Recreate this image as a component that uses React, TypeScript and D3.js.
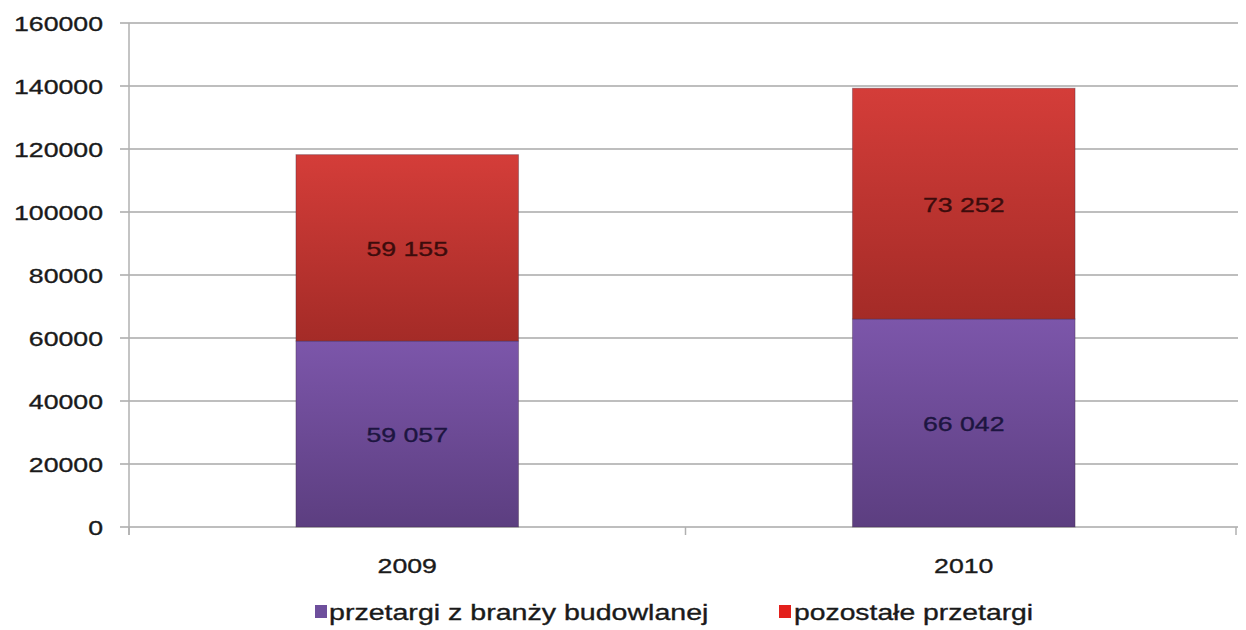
import React from 'react';
import * as d3 from 'd3';

const years = ['2009', '2010'];
const construction = [59057, 66042];
const other = [59155, 73252];
const yTicks = [0, 20000, 40000, 60000, 80000, 100000, 120000, 140000, 160000];
const seriesNames = ['przetargi z branży budowlanej', 'pozostałe przetargi'];

const width = 1246;
const height = 630;
const margin = { top: 23, right: 4, bottom: 103, left: 129 };
const SX = 1.27; // the source picture is stretched horizontally

const fmt = (v: number) => d3.format(',')(v).replace(/,/g, ' ');

function StretchText({ x, y, anchor, children, fill = '#1a1a1a', size = 21 }: any) {
    return (
        <g transform={`translate(${x},${y}) scale(${SX},1)`}>
            <text textAnchor={anchor} fontSize={size} fill={fill} stroke={fill} strokeWidth={0.35}
                fontFamily="'Liberation Sans', Arial, sans-serif">
                {children}
            </text>
        </g>
    );
}

export default function App() {
    const right = width - margin.right;
    const y = d3.scaleLinear().domain([0, 160000]).range([527, margin.top]);
    const band = d3.scaleBand().domain(years).range([margin.left, right]);

    const stacks = d3.stack<any>().keys(['a', 'b'])(years.map((yr, i) => ({ yr, a: construction[i], b: other[i] })));
    const fills = ['url(#gPurple)', 'url(#gRed)'];
    const labelColors = ['#1d1540', '#3d0c0c'];

    return (
        <svg width={width} height={height} style={{ position: 'absolute', left: 0, top: 0, background: '#fff' }}>
            <defs>
                <linearGradient id="gPurple" x1="0" y1="0" x2="0" y2="1">
                    <stop offset="0%" stopColor="#7c56aa" />
                    <stop offset="100%" stopColor="#5c3e80" />
                </linearGradient>
                <linearGradient id="gRed" x1="0" y1="0" x2="0" y2="1">
                    <stop offset="0%" stopColor="#d43d39" />
                    <stop offset="100%" stopColor="#a42b27" />
                </linearGradient>
            </defs>

            {/* gridlines */}
            {yTicks.map(t => (
                <line key={t} x1={120} x2={1238} y1={y(t)} y2={y(t)} stroke="#a8a8a8" strokeWidth={1.5} />
            ))}
            {/* axes */}
            <line x1={margin.left} x2={margin.left} y1={y(160000)} y2={535} stroke="#b0b0b0" strokeWidth={1.5} />
            {[...years.map(yr => band(yr) as number), 1236].map((p, i) => (
                <line key={i} x1={p} x2={p} y1={527} y2={535} stroke="#b0b0b0" strokeWidth={1.5} />
            ))}
            {yTicks.map(t => (
                <StretchText key={t} x={103} y={y(t) + 7.5} anchor="end">{String(t)}</StretchText>
            ))}

            {/* bars */}
            {stacks.map((s, si) => s.map((d, i) => {
                const x0 = (band(years[i]) as number) + band.bandwidth() * 0.3;
                const w = band.bandwidth() * 0.4;
                const top = y(d[1]);
                const bot = y(d[0]);
                return (
                    <g key={`${si}-${i}`}>
                        <rect x={x0} y={top} width={w} height={bot - top} fill={fills[si]} stroke="rgba(60,40,60,0.35)" strokeWidth={1} />
                        <StretchText x={x0 + w / 2} y={(top + bot) / 2 + 8} anchor="middle" fill={labelColors[si]}>
                            {fmt(d[1] - d[0])}
                        </StretchText>
                    </g>
                );
            }))}

            {/* x labels */}
            {years.map(yr => (
                <StretchText key={yr} x={(band(yr) as number) + band.bandwidth() / 2} y={573} anchor="middle">{yr}</StretchText>
            ))}

            {/* legend */}
            <rect x={315} y={605} width={12} height={13} fill="#6e4f9c" />
            <StretchText x={329} y={620} anchor="start" size={22.5}>{seriesNames[0]}</StretchText>
            <rect x={779} y={605} width={12} height={13} fill="#e3201c" />
            <StretchText x={794} y={620} anchor="start" size={22.3}>{seriesNames[1]}</StretchText>
        </svg>
    );
}
